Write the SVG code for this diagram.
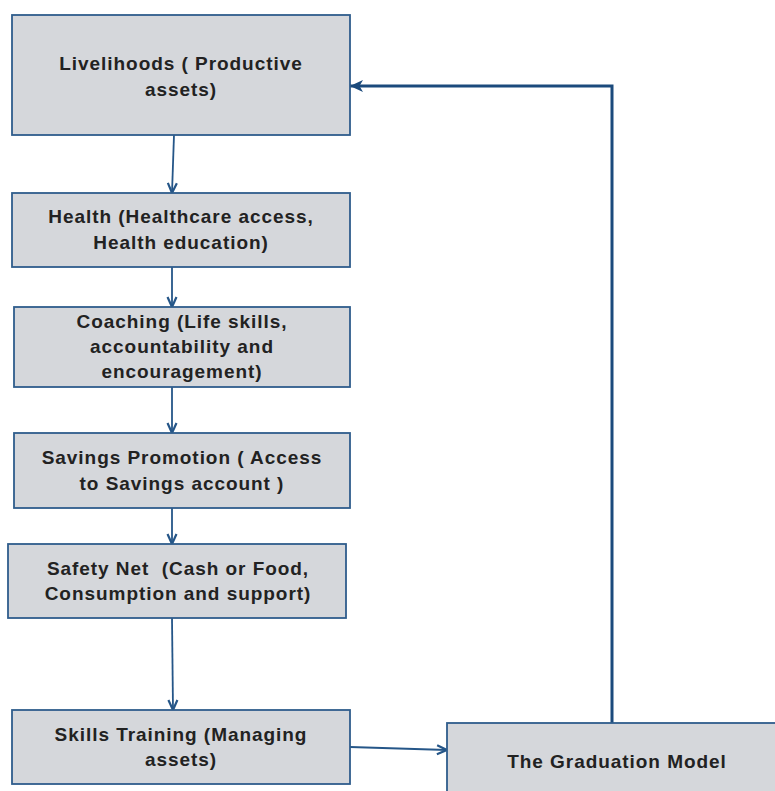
<svg xmlns="http://www.w3.org/2000/svg" width="775" height="791" viewBox="0 0 775 791">
<defs>
<style>
.box{fill:#d5d7db;stroke:#2f5d8c;stroke-width:1.8}
.t{font-family:"Liberation Sans",Arial,sans-serif;font-weight:bold;font-size:19px;letter-spacing:0.95px;fill:#222;text-anchor:middle;white-space:pre}
.thin{fill:none;stroke:#255688;stroke-width:1.8}
.thick{fill:none;stroke:#1b4a7c;stroke-width:3}
</style>
<marker id="open" viewBox="0 0 12 12" refX="11" refY="6" markerWidth="12" markerHeight="12" markerUnits="userSpaceOnUse" orient="auto">
<path d="M1,1.5 L11,6 L1,10.5" fill="none" stroke="#255688" stroke-width="2.2"/>
</marker>
<marker id="solid" viewBox="0 0 14 14" refX="13" refY="7" markerWidth="14" markerHeight="14" markerUnits="userSpaceOnUse" orient="auto">
<path d="M0,1 L13,7 L0,13 L3.5,7 Z" fill="#1b4a7c"/>
</marker>
</defs>
<rect width="775" height="791" fill="#fff"/>
<g id="connectors">
<line class="thin" x1="174" y1="135" x2="172" y2="193" marker-end="url(#open)"/>
<line class="thin" x1="172" y1="267" x2="172" y2="307" marker-end="url(#open)"/>
<line class="thin" x1="172" y1="387" x2="172" y2="433" marker-end="url(#open)"/>
<line class="thin" x1="172" y1="508" x2="172" y2="544" marker-end="url(#open)"/>
<line class="thin" x1="172" y1="618" x2="173" y2="710" marker-end="url(#open)"/>
<line class="thin" x1="350" y1="747" x2="447" y2="750" marker-end="url(#open)"/>
<polyline class="thick" points="612,723 612,86 350,86" marker-end="url(#solid)"/>
</g>
<g id="livelihoods">
<rect class="box" x="12" y="15" width="338" height="120"/>
<text class="t" x="181" y="70">Livelihoods ( Productive</text>
<text class="t" x="181" y="96">assets)</text>
</g>
<g id="health">
<rect class="box" x="12" y="193" width="338" height="74"/>
<text class="t" x="181" y="223">Health (Healthcare access,</text>
<text class="t" x="181" y="249">Health education)</text>
</g>
<g id="coaching">
<rect class="box" x="14" y="307" width="336" height="80"/>
<text class="t" x="182" y="328">Coaching (Life skills,</text>
<text class="t" x="182" y="353">accountability and</text>
<text class="t" x="182" y="378">encouragement)</text>
</g>
<g id="savings">
<rect class="box" x="14" y="433" width="336" height="75"/>
<text class="t" x="182" y="464">Savings Promotion ( Access</text>
<text class="t" x="182" y="490">to Savings account )</text>
</g>
<g id="safety">
<rect class="box" x="8" y="544" width="338" height="74"/>
<text class="t" x="178" y="575" xml:space="preserve">Safety Net  (Cash or Food,</text>
<text class="t" x="178" y="600">Consumption and support)</text>
</g>
<g id="skills">
<rect class="box" x="12" y="710" width="338" height="74"/>
<text class="t" x="181" y="741">Skills Training (Managing</text>
<text class="t" x="181" y="766">assets)</text>
</g>
<g id="graduation">
<rect class="box" x="447" y="723" width="338" height="90"/>
<text class="t" x="617" y="768">The Graduation Model</text>
</g>
</svg>
